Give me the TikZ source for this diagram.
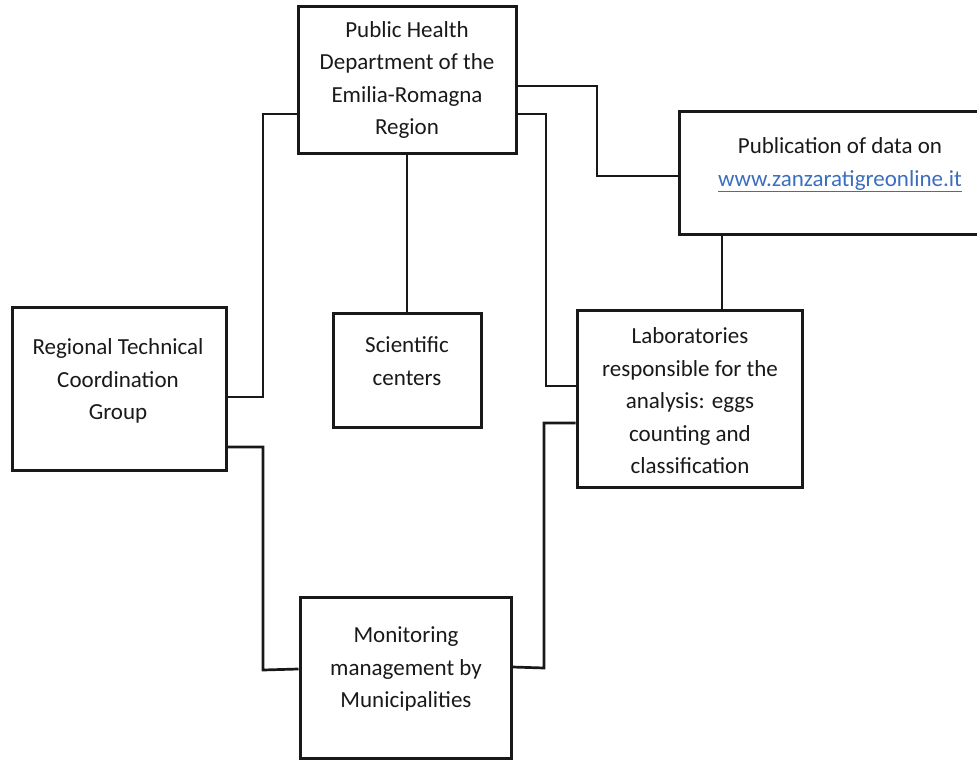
\documentclass[tikz,border=0pt]{standalone}
\usepackage{fontspec}
\setmainfont{Carlito}
\usetikzlibrary{calc}
\definecolor{ink}{RGB}{25,25,25}
\definecolor{linkblue}{RGB}{60,110,190}
\begin{document}
\begin{tikzpicture}[x=1pt,y=-1pt,
  box/.style={draw=ink,line width=3pt,rectangle,inner sep=0pt,fill=none},
  lbl/.style={align=center,text=ink,inner sep=0pt,font=\fontsize{23}{32.5}\selectfont},
  conn/.style={draw=ink,line width=2.7pt}]
\useasboundingbox (0,0) rectangle (977,760);
\clip (0,0) rectangle (977,760);
% boxes
\node[box,minimum width=218pt,minimum height=146pt] (ph) at (407,80) {};
\node[box,minimum width=322pt,minimum height=123pt] (pub) at (840,172.5) {};
\node[box,minimum width=213.5pt,minimum height=163pt] (rtcg) at (119.25,388.5) {};
\node[box,minimum width=148pt,minimum height=114pt] (sci) at (407,370) {};
\node[box,minimum width=225pt,minimum height=177pt] (lab) at (689.5,398.5) {};
\node[box,minimum width=211pt,minimum height=161pt] (mon) at (405.5,677.5) {};
% texts
\node[lbl] (phT) at (407,80) {Public Health\\Department of the\\Emilia-Romagna\\Region};
\node[lbl] (pubT) at (840,165) {Publication of data on\\\textcolor{linkblue}{\underline{www.zanzaratigreonline.it}}};
\node[lbl] (rtcgT) at (118,381) {Regional Technical\\Coordination\\Group};
\node[lbl] (sciT) at (407,361) {Scientific\\centers};
\node[lbl] (labT) at (690,401) {Laboratories\\responsible for the\\analysis: eggs\\counting and\\classification};
\node[lbl] (monT) at (406,669) {Monitoring\\management by\\Municipalities};
% junction coordinates
\coordinate (j1) at (263,114);
\coordinate (j2) at (597,86);
\coordinate (j3) at (546,386);
\coordinate (j4) at (263,670);
\coordinate (j5) at (544,668);
\coordinate (pl) at (722,0);
% connectors
\draw[conn] ([yshift=-8.5pt]rtcg.east) -| (j1) -- ([yshift=-34pt]ph.west);
\draw[conn] ([yshift=-6pt]ph.east) -- (j2) |- ([yshift=-3.5pt]pub.west);
\draw[conn] ([yshift=-34pt]ph.east) -| (j3) -- ([yshift=12.5pt]lab.west);
\draw[conn] (sci.north) -- (sci.north |- ph.south);
\draw[conn] (pub.south -| pl) -- (lab.north -| pl);
\draw[conn] ([yshift=-58.5pt]rtcg.east) -| (j4) -- ([yshift=8.5pt]mon.west);
\draw[conn] ([yshift=-24.5pt]lab.west) -| (j5) -- ([yshift=10.5pt]mon.east);
\end{tikzpicture}
\end{document}
